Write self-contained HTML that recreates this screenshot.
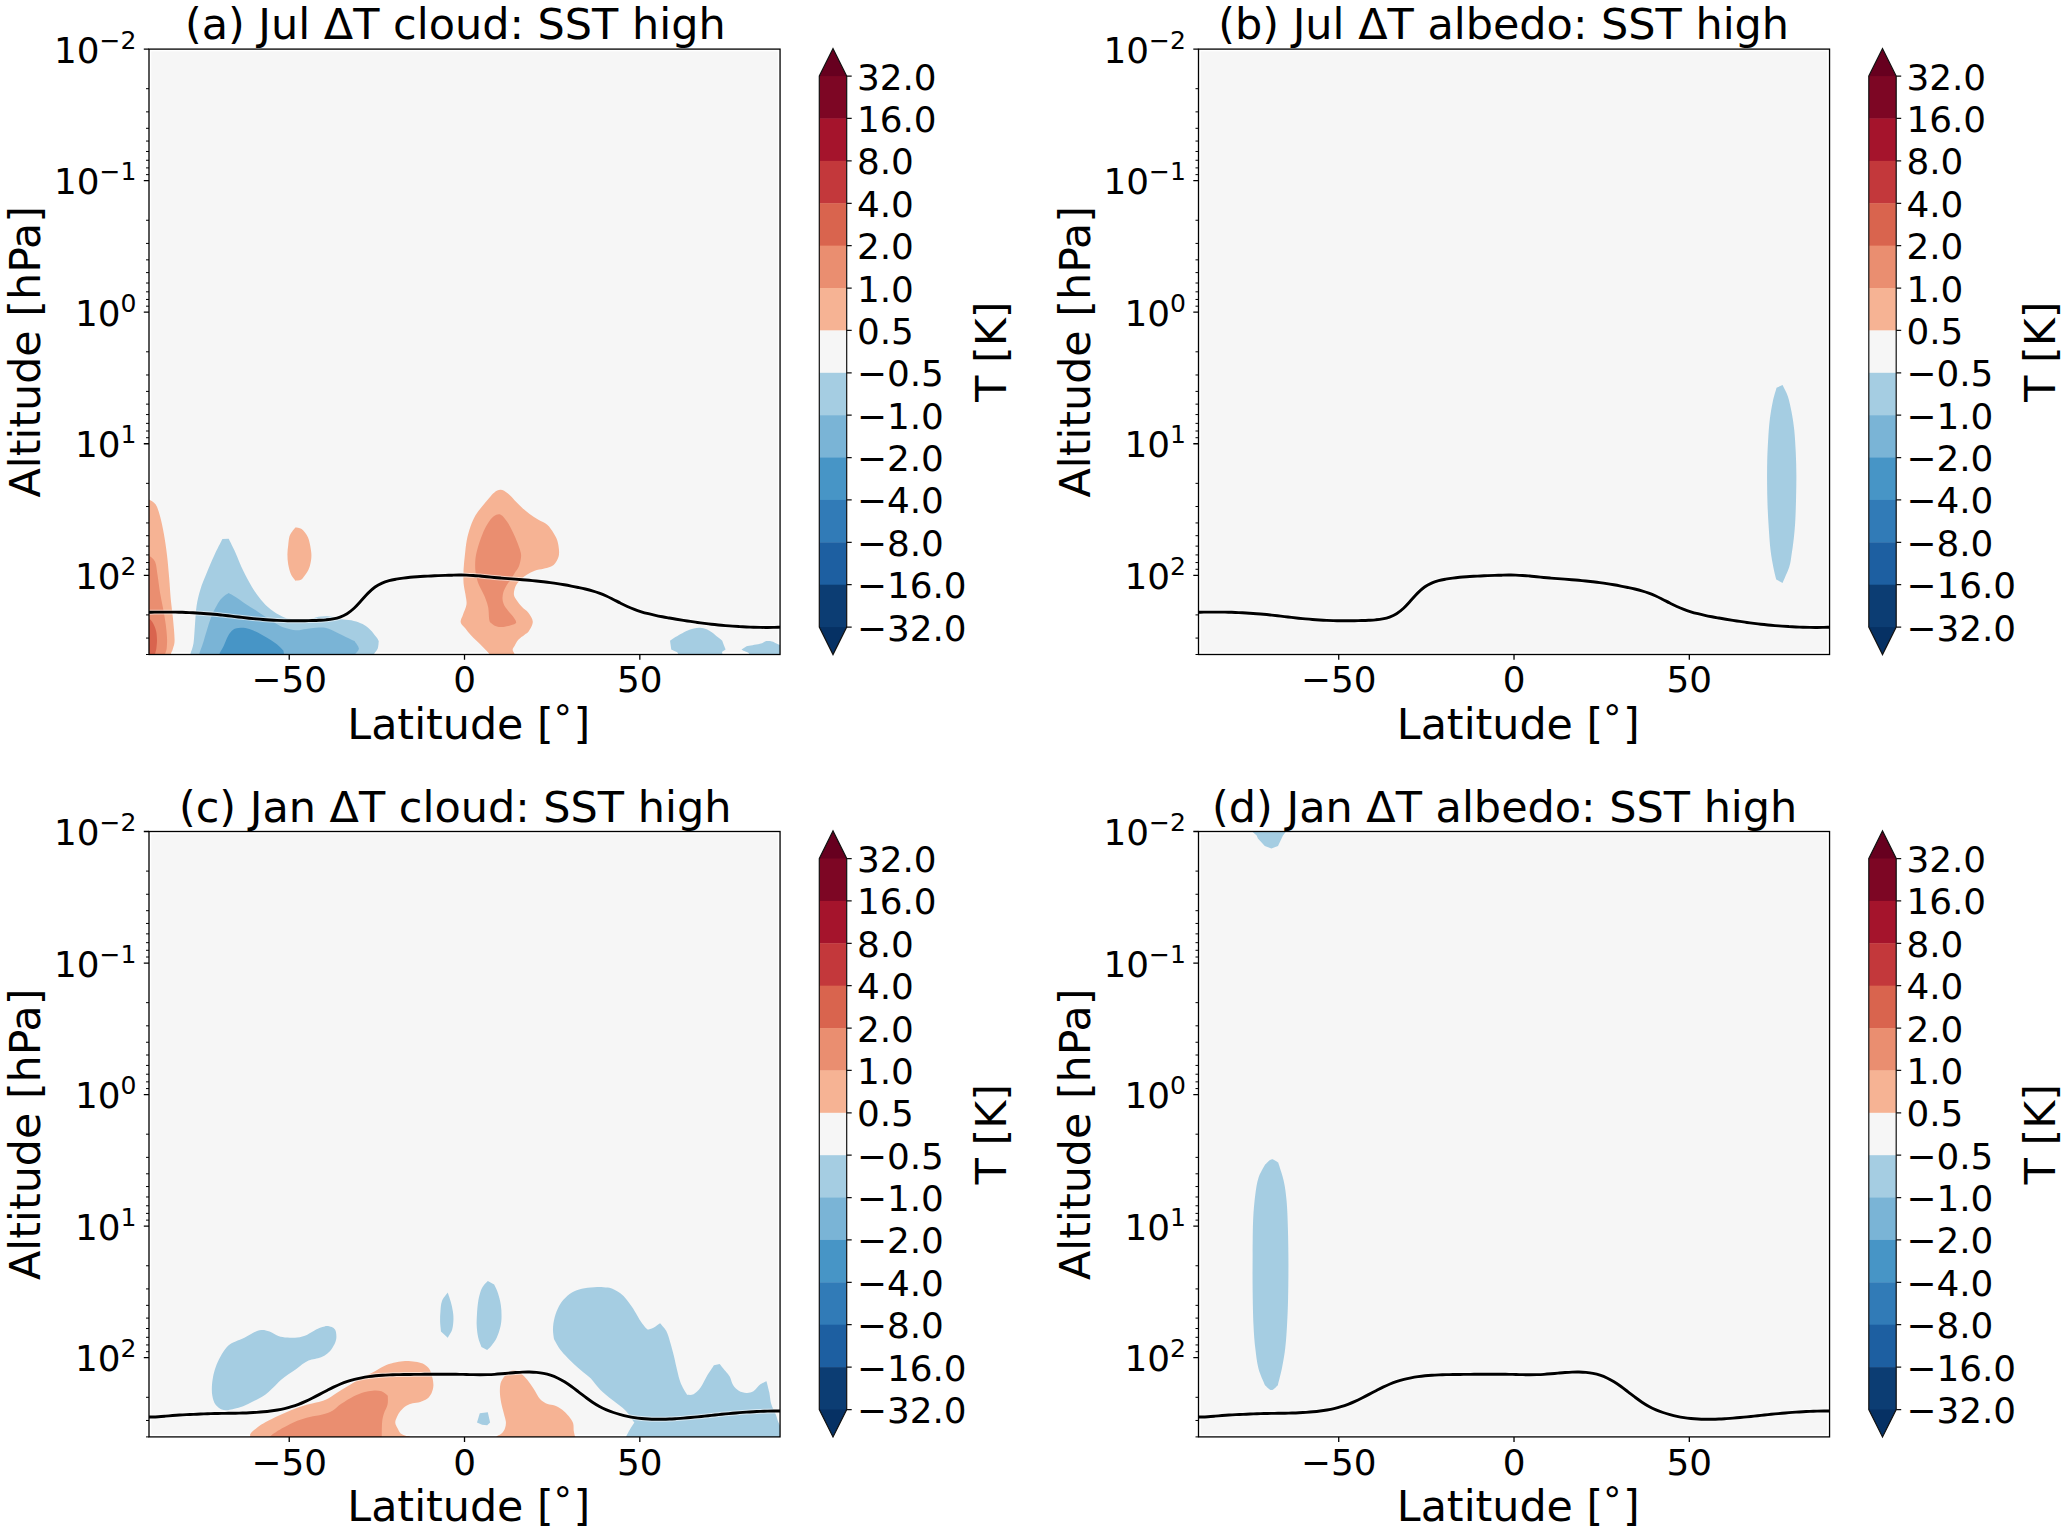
<!DOCTYPE html>
<html lang="en"><head><meta charset="utf-8"><title>SST high: temperature response</title>
<style>html,body{margin:0;padding:0;background:#fff}body{width:2067px;height:1532px;overflow:hidden}svg{display:block}text{font-family:'DejaVu Sans','Liberation Sans',sans-serif;fill:#000}</style>
</head><body>
<svg width="2067" height="1532" viewBox="0 0 2067 1532">
<defs><clipPath id="axclip"><rect x="2.4" y="2.4" width="628.65" height="603"/></clipPath><clipPath id="axclip2"><rect x="0" y="0" width="631.05" height="605.4"/></clipPath></defs>
<rect width="2067" height="1532" fill="#fff"/>
<g transform="translate(149,49.1)">
<rect x="0" y="0" width="631.05" height="605.4" fill="#fff"/>
<rect x="2.3" y="2.3" width="626.45" height="600.8" fill="#f6f6f6"/>
<g clip-path="url(#axclip2)">
<path d="M-6.48,445.99 L0.06,450.4 L0.06,450.4 C1.17,451.24 4.88,452.6 6.72,455.43 C8.57,458.26 9.76,462.45 11.13,467.38 C12.49,472.3 13.75,478.49 14.9,484.99 C16.05,491.49 17.16,499.03 18.04,506.37 C18.92,513.71 19.55,521.68 20.18,529.01 C20.81,536.35 21.19,543.69 21.82,550.4 C22.45,557.11 23.33,562.56 23.96,569.26 C24.58,575.97 25.59,585.62 25.59,590.65 C25.59,595.68 24.58,597.04 23.96,599.45 C23.33,601.86 22.32,603.23 21.82,605.11 C21.31,607 21.08,609.83 20.94,610.77 L-6.48,610.77 Z" fill="#f6b394"/>
<path d="M-6.48,501.34 L0.06,506.37 L0.06,506.37 C1.06,507.42 4.67,509.31 6.09,512.66 C7.52,516.02 7.77,521.26 8.61,526.5 C9.45,531.74 10.18,538.45 11.13,544.11 C12.07,549.77 13.33,555.22 14.27,560.46 C15.21,565.7 16.16,570.73 16.79,575.55 C17.42,580.38 17.9,585.41 18.04,589.39 C18.19,593.37 17.98,596.83 17.67,599.45 C17.35,602.07 16.49,603.23 16.16,605.11 C15.82,607 15.74,609.83 15.65,610.77 L-6.48,610.77 Z" fill="#ea8e70"/>
<path d="M-6.48,564.23 L0.06,569.26 L0.06,569.26 C0.75,570.1 3.03,572.2 4.21,574.3 C5.38,576.39 6.47,579.12 7.1,581.84 C7.73,584.57 7.94,587.71 7.98,590.65 C8.02,593.58 7.67,597.04 7.35,599.45 C7.04,601.86 6.39,603.23 6.09,605.11 C5.8,607 5.68,609.83 5.59,610.77 L-6.48,610.77 Z" fill="#d9644e"/>
<path d="M40.69,610.77 C40.79,609.83 40.69,607.84 41.31,605.11 C41.94,602.39 43.68,599.35 44.46,594.42 C45.23,589.5 45.44,581.84 45.97,575.55 C46.49,569.26 46.7,562.56 47.6,556.69 C48.51,550.82 49.7,545.78 51.38,540.33 C53.05,534.88 55.36,529.64 57.67,523.98 C59.97,518.32 62.59,512.03 65.21,506.37 C67.83,500.71 72.03,492.74 73.39,490.02 L73.39,490.02 L79.68,489.77 L79.68,489.77 C80.83,492.12 84.19,498.57 86.6,503.86 C89.01,509.14 91.42,515.81 94.14,521.47 C96.87,527.13 100.01,533 102.95,537.82 C105.88,542.64 108.61,546.62 111.75,550.4 C114.9,554.17 118.25,557.63 121.82,560.46 C125.38,563.29 129.78,565.81 133.14,567.38 C136.49,568.95 137.33,569.47 141.94,569.89 C146.56,570.31 156.2,570.25 160.81,569.89 C165.42,569.54 166.68,568.22 169.62,567.76 C172.55,567.29 175.49,566.98 178.42,567.13 C181.36,567.27 184.5,568.07 187.23,568.64 C189.95,569.2 191.84,570 194.77,570.52 C197.71,571.05 201.69,571.05 204.84,571.78 C207.98,572.51 210.92,573.46 213.64,574.93 C216.37,576.39 218.88,578.38 221.19,580.59 C223.49,582.79 226.05,586.25 227.48,588.13 C228.9,590.02 229.36,591.28 229.74,591.91 L229.74,591.91 C229.57,593.16 229.53,597.25 228.74,599.45 C227.94,601.65 225.8,603.23 224.96,605.11 C224.12,607 223.91,609.83 223.7,610.77 Z" fill="#a5cde2"/>
<path d="M49.11,610.77 C49.28,609.83 49.32,607.84 50.12,605.11 C50.92,602.39 52.64,598.3 53.89,594.42 C55.15,590.54 56.2,586.46 57.67,581.84 C59.13,577.23 60.81,571.36 62.7,566.75 C64.58,562.14 67.1,557.32 68.99,554.17 C70.87,551.03 72.24,549.6 74.02,547.88 C75.8,546.16 78.74,544.53 79.68,543.86 L79.68,543.86 C80.83,544.53 83.77,546.06 86.6,547.88 C89.43,549.71 93.31,552.6 96.66,554.8 C100.01,557 103.37,558.89 106.72,561.09 C110.08,563.29 113.43,565.81 116.79,568.01 C120.14,570.21 123.7,572.51 126.85,574.3 C129.99,576.08 132.3,577.55 135.65,578.7 C139.01,579.85 143.41,581 146.97,581.21 C150.54,581.42 153.68,580.38 157.04,579.96 C160.39,579.54 163.75,578.87 167.1,578.7 C170.45,578.53 173.81,578.22 177.16,578.95 C180.52,579.68 183.87,581.57 187.23,583.1 C190.58,584.63 194.25,586.67 197.29,588.13 C200.33,589.6 204.1,591.28 205.47,591.91 L205.47,591.91 C206.2,593.16 209.76,597.25 209.87,599.45 C209.97,601.65 206.93,603.23 206.09,605.11 C205.26,607 205.05,609.83 204.84,610.77 Z" fill="#7ab4d6"/>
<path d="M68.36,610.77 C68.67,609.83 69.2,607.42 70.25,605.11 C71.29,602.81 73.18,599.98 74.65,596.94 C76.12,593.9 77.48,589.6 79.05,586.87 C80.62,584.15 81.99,581.95 84.08,580.59 C86.18,579.22 88.9,578.8 91.63,578.7 C94.35,578.59 97.5,579.12 100.43,579.96 C103.37,580.8 106.3,582.26 109.24,583.73 C112.17,585.2 115.11,586.98 118.04,588.76 C120.98,590.54 124.12,592.33 126.85,594.42 C129.57,596.52 133.14,600.19 134.4,601.34 L134.4,601.34 C134.5,601.97 134.86,603.54 135.03,605.11 C135.19,606.69 135.34,609.83 135.4,610.77 Z" fill="#4795c6"/>
<path d="M146.35,478.45 C147.39,478.7 150.54,478.34 152.64,479.96 C154.73,481.57 157.39,484.78 158.92,488.13 C160.45,491.49 161.25,496.62 161.82,500.08 C162.38,503.54 162.59,505.74 162.32,508.89 C162.05,512.03 161.27,516.02 160.18,518.95 C159.09,521.89 157.14,524.55 155.78,526.5 C154.42,528.45 153.58,529.81 152.01,530.65 C150.43,531.49 147.29,531.38 146.35,531.53 L146.35,531.53 C145.61,530.48 143.14,527.96 141.94,525.24 C140.75,522.51 139.76,518.53 139.18,515.18 C138.59,511.82 138.42,508.26 138.42,505.11 C138.42,501.97 138.84,499.24 139.18,496.31 C139.51,493.37 139.76,489.81 140.43,487.5 C141.1,485.2 142.22,483.98 143.2,482.47 C144.19,480.96 145.82,479.12 146.35,478.45 Z" fill="#f6b394"/>
<path d="M351.69,440.77 C353.89,440.92 356.3,442.45 358.61,444.17 C360.92,445.89 363.12,448.68 365.53,451.09 C367.94,453.5 370.56,456.33 373.08,458.64 C375.59,460.94 377.9,462.93 380.62,464.93 C383.35,466.92 386.49,468.8 389.43,470.59 C392.36,472.37 395.72,473.42 398.23,475.62 C400.75,477.82 402.84,481.17 404.52,483.79 C406.2,486.41 407.39,488.61 408.3,491.34 C409.2,494.07 409.72,497.42 409.93,500.15 C410.14,502.87 410.25,505.28 409.55,507.69 C408.86,510.1 407.25,512.89 405.78,514.61 C404.31,516.33 402.64,517.17 400.75,518.01 C398.86,518.85 396.97,519.06 394.46,519.64 C391.94,520.23 388.38,520.59 385.65,521.53 C382.93,522.47 380.41,523.84 378.11,525.3 C375.8,526.77 373.7,528.45 371.82,530.33 C369.93,532.22 367.94,534.11 366.79,536.62 C365.63,539.14 364.69,542.91 364.9,545.43 C365.11,547.94 366.68,549.62 368.04,551.72 C369.41,553.81 371.19,556.02 373.08,558.01 C374.96,560 377.58,561.26 379.36,563.67 C381.15,566.08 383.66,569.43 383.77,572.47 C383.87,575.51 381.36,579.71 379.99,581.91 C378.63,584.11 377.37,584.21 375.59,585.68 C373.81,587.15 370.98,588.82 369.3,590.71 C367.62,592.6 366.47,595.32 365.53,597 C364.58,598.68 363.64,599.45 363.64,600.77 C363.64,602.09 364.9,603.46 365.53,604.93 C366.16,606.39 371.4,608.8 367.42,609.58 C363.43,610.35 346.14,610.35 341.63,609.58 C337.12,608.8 341.63,606.81 340.37,604.93 C339.11,603.04 336.18,600.42 334.08,598.26 C331.99,596.1 329.89,594.07 327.79,591.97 C325.7,589.87 323.39,587.78 321.5,585.68 C319.62,583.58 318.11,581.49 316.47,579.39 C314.84,577.29 312.11,575.41 311.69,573.1 C311.27,570.8 312.99,568.49 313.96,565.55 C314.92,562.62 317.06,558.85 317.48,555.49 C317.9,552.14 316.95,548.99 316.47,545.43 C315.99,541.86 314.9,538.3 314.58,534.11 C314.27,529.91 314.38,524.88 314.58,520.27 C314.79,515.66 315.32,511.26 315.84,506.43 C316.37,501.61 316.79,496.16 317.73,491.34 C318.67,486.52 320.04,481.7 321.5,477.5 C322.97,473.31 324.44,469.75 326.53,466.18 C328.63,462.62 331.78,459.06 334.08,456.12 C336.39,453.19 338.48,450.71 340.37,448.57 C342.26,446.43 343.52,444.59 345.4,443.29 C347.29,441.99 349.49,440.63 351.69,440.77Z" fill="#f6b394"/>
<path d="M351.69,465.55 C353.89,466.43 355.99,469.64 357.98,472.47 C359.97,475.3 361.96,479.18 363.64,482.54 C365.32,485.89 366.79,489.45 368.04,492.6 C369.3,495.74 370.52,498.89 371.19,501.4 C371.86,503.92 372.28,505.07 372.07,507.69 C371.86,510.31 371.02,514.4 369.93,517.13 C368.84,519.85 366.89,521.84 365.53,524.04 C364.17,526.25 363.12,528.24 361.75,530.33 C360.39,532.43 358.61,534.42 357.35,536.62 C356.09,538.82 354.84,541.24 354.21,543.54 C353.58,545.85 353.37,548.26 353.58,550.46 C353.79,552.66 354.52,554.86 355.47,556.75 C356.41,558.64 357.88,560.1 359.24,561.78 C360.6,563.46 362.32,564.88 363.64,566.81 C364.96,568.74 367.48,571.78 367.16,573.35 C366.85,574.93 363.91,575.49 361.75,576.25 C359.6,577 356.51,577.67 354.21,577.88 C351.9,578.09 349.81,578.05 347.92,577.5 C346.03,576.96 344.14,575.66 342.89,574.61 C341.63,573.56 341,573.98 340.37,571.21 C339.74,568.45 339.95,562.09 339.11,558.01 C338.27,553.92 336.81,550.25 335.34,546.69 C333.87,543.12 331.57,539.56 330.31,536.62 C329.05,533.69 328.46,531.8 327.79,529.08 C327.12,526.35 326.49,523.63 326.28,520.27 C326.07,516.92 326.07,512.72 326.53,508.95 C327,505.18 327.9,501.61 329.05,497.63 C330.2,493.65 331.88,488.82 333.45,485.05 C335.03,481.28 336.6,477.96 338.48,474.99 C340.37,472.01 342.57,468.76 344.77,467.19 C346.97,465.62 349.49,464.67 351.69,465.55Z" fill="#ea8e70"/>
<path d="M521.04,591.55 C522.39,590.71 526.41,588.11 529.13,586.5 C531.86,584.89 534.8,583.1 537.41,581.9 C540.01,580.71 542.46,579.86 544.76,579.33 C547.06,578.79 549.05,578.56 551.19,578.68 C553.34,578.81 555.64,579.3 557.63,580.06 C559.62,580.83 561.3,581.98 563.14,583.28 C564.98,584.58 566.97,586.5 568.66,587.88 C570.34,589.25 572.49,590.94 573.25,591.55 L573.25,591.55 C573.56,592.4 574.53,595.15 575.09,596.61 C575.66,598.06 576.39,599.67 576.65,600.29 L576.65,600.29 C576.09,600.67 574.43,601.51 573.25,602.58 C572.07,603.66 576.16,606.03 569.58,606.72 C562.99,607.41 540.62,607.33 533.73,606.72 C526.83,606.11 530.13,604.12 528.21,603.04 C526.3,601.97 523.23,600.74 522.24,600.29 L522.24,600.29 C522.13,599.52 521.79,597.14 521.59,595.69 C521.4,594.23 521.14,592.24 521.04,591.55 Z" fill="#a5cde2"/>
<path d="M592.56,600.47 L597.61,597.07 L597.61,597.07 C598.61,596.91 601.37,596.53 603.59,596.15 C605.81,595.77 608.64,595.46 610.94,594.77 C613.24,594.08 616.3,592.47 617.38,592.01 L617.38,592.01 C618.29,592.06 621.21,591.9 622.89,592.29 C624.58,592.67 625.5,593.44 627.49,594.31 C629.48,595.18 633.61,596.99 634.84,597.53 L634.84,607.64 C629.94,607.64 611.4,608.33 605.43,607.64 C599.45,606.95 600.83,604.5 598.99,603.5 C597.15,602.51 595.47,602.17 594.4,601.66 C593.32,601.16 592.86,600.67 592.56,600.47 Z" fill="#a5cde2"/>
</g>
<g clip-path="url(#axclip2)">
<defs><path id="ln-a" d="M-19.14,563.37 C-17.98,563.36 -14.47,563.32 -12.14,563.3 C-9.8,563.27 -7.47,563.25 -5.13,563.22 C-2.79,563.19 -0.46,563.15 1.88,563.12 C4.21,563.09 6.55,563.05 8.88,563.03 C11.22,563.01 13.55,562.99 15.89,562.99 C18.23,562.98 20.56,562.99 22.9,563.01 C25.23,563.02 27.57,563.05 29.9,563.1 C32.24,563.16 34.57,563.24 36.91,563.34 C39.25,563.44 41.58,563.57 43.92,563.69 C46.25,563.82 48.59,563.96 50.92,564.11 C53.26,564.26 55.6,564.42 57.93,564.59 C60.27,564.77 62.6,564.95 64.94,565.17 C67.27,565.38 69.61,565.62 71.94,565.87 C74.28,566.12 76.62,566.39 78.95,566.66 C81.29,566.93 83.62,567.2 85.96,567.48 C88.29,567.75 90.63,568.03 92.96,568.3 C95.3,568.57 97.64,568.84 99.97,569.09 C102.31,569.34 104.64,569.59 106.98,569.81 C109.31,570.04 111.65,570.26 113.98,570.44 C116.32,570.63 118.66,570.79 120.99,570.93 C123.33,571.07 125.66,571.2 128,571.3 C130.33,571.4 132.67,571.48 135.01,571.55 C137.34,571.61 139.68,571.65 142.01,571.68 C144.35,571.71 146.68,571.72 149.02,571.71 C151.35,571.7 153.69,571.68 156.03,571.64 C158.36,571.6 160.7,571.54 163.03,571.47 C165.37,571.39 167.7,571.31 170.04,571.19 C172.37,571.06 174.71,570.96 177.05,570.74 C179.38,570.51 181.72,570.29 184.05,569.83 C186.39,569.38 188.72,568.88 191.06,568.02 C193.39,567.16 195.73,566.13 198.07,564.66 C200.4,563.18 202.74,561.32 205.07,559.17 C207.41,557.02 209.74,554.28 212.08,551.76 C214.42,549.23 216.75,546.33 219.09,544.02 C221.42,541.72 223.76,539.6 226.09,537.92 C228.43,536.24 230.76,535.02 233.1,533.96 C235.44,532.9 237.77,532.22 240.11,531.57 C242.44,530.92 244.78,530.5 247.11,530.07 C249.45,529.65 251.78,529.31 254.12,529 C256.46,528.69 258.79,528.44 261.13,528.21 C263.46,527.98 265.8,527.8 268.13,527.63 C270.47,527.45 272.81,527.31 275.14,527.18 C277.48,527.05 279.81,526.94 282.15,526.84 C284.48,526.74 286.82,526.65 289.15,526.56 C291.49,526.47 293.83,526.38 296.16,526.31 C298.5,526.23 300.83,526.15 303.17,526.09 C305.5,526.03 307.84,525.96 310.17,525.95 C312.51,525.93 314.85,525.93 317.18,526 C319.52,526.06 321.85,526.17 324.19,526.33 C326.52,526.48 328.86,526.71 331.19,526.92 C333.53,527.14 335.87,527.4 338.2,527.64 C340.54,527.88 342.87,528.12 345.21,528.35 C347.54,528.57 349.88,528.78 352.22,528.98 C354.55,529.17 356.89,529.35 359.22,529.53 C361.56,529.71 363.89,529.87 366.23,530.05 C368.56,530.23 370.9,530.41 373.24,530.6 C375.57,530.79 377.91,530.98 380.24,531.19 C382.58,531.4 384.91,531.63 387.25,531.86 C389.58,532.1 391.92,532.35 394.26,532.62 C396.59,532.89 398.93,533.16 401.26,533.47 C403.6,533.78 405.93,534.1 408.27,534.46 C410.61,534.82 412.94,535.22 415.28,535.63 C417.61,536.05 419.95,536.5 422.28,536.96 C424.62,537.42 426.95,537.89 429.29,538.38 C431.63,538.88 433.96,539.37 436.3,539.93 C438.63,540.48 440.97,541.04 443.3,541.72 C445.64,542.39 447.97,543.12 450.31,543.98 C452.65,544.85 454.98,545.84 457.32,546.9 C459.65,547.96 461.99,549.17 464.32,550.34 C466.66,551.52 468.99,552.78 471.33,553.95 C473.67,555.12 476,556.3 478.34,557.36 C480.67,558.42 483.01,559.41 485.34,560.3 C487.68,561.18 490.02,561.95 492.35,562.68 C494.69,563.4 497.02,564.02 499.36,564.62 C501.69,565.22 504.03,565.75 506.36,566.26 C508.7,566.76 511.04,567.21 513.37,567.65 C515.71,568.1 518.04,568.51 520.38,568.93 C522.71,569.34 525.05,569.75 527.38,570.14 C529.72,570.53 532.06,570.9 534.39,571.27 C536.73,571.64 539.06,571.99 541.4,572.34 C543.73,572.68 546.07,573.03 548.41,573.35 C550.74,573.67 553.08,573.98 555.41,574.28 C557.75,574.57 560.08,574.85 562.42,575.11 C564.75,575.38 567.09,575.62 569.43,575.85 C571.76,576.08 574.1,576.3 576.43,576.5 C578.77,576.69 581.1,576.87 583.44,577.03 C585.77,577.19 588.11,577.34 590.45,577.48 C592.78,577.61 595.12,577.74 597.45,577.84 C599.79,577.95 602.12,578.04 604.46,578.12 C606.79,578.19 609.13,578.26 611.47,578.29 C613.8,578.33 616.14,578.34 618.47,578.33 C620.81,578.32 623.14,578.27 625.48,578.23 C627.82,578.18 630.15,578.11 632.49,578.06 C634.82,578 637.16,577.94 639.49,577.88 C641.83,577.82 645.33,577.73 646.5,577.7"/></defs>
<use href="#ln-a" fill="none" stroke="#fff" stroke-opacity="0.55" stroke-width="4.9"/>
<use href="#ln-a" fill="none" stroke="#000" stroke-width="2.9"/>
</g>
<path d="M0,0 h-5.2 M0,131.55 h-5.2 M0,263.1 h-5.2 M0,394.65 h-5.2 M0,526.2 h-5.2 M140.23,605.4 v5.2 M315.52,605.4 v5.2 M490.82,605.4 v5.2" stroke="#000" stroke-width="1.3" fill="none"/>
<path d="M0,39.6 h-3 M0,62.77 h-3 M0,79.2 h-3 M0,91.95 h-3 M0,102.37 h-3 M0,111.17 h-3 M0,118.8 h-3 M0,125.53 h-3 M0,171.15 h-3 M0,194.32 h-3 M0,210.75 h-3 M0,223.5 h-3 M0,233.92 h-3 M0,242.72 h-3 M0,250.35 h-3 M0,257.08 h-3 M0,302.7 h-3 M0,325.87 h-3 M0,342.3 h-3 M0,355.05 h-3 M0,365.47 h-3 M0,374.27 h-3 M0,381.9 h-3 M0,388.63 h-3 M0,434.25 h-3 M0,457.42 h-3 M0,473.85 h-3 M0,486.6 h-3 M0,497.02 h-3 M0,505.82 h-3 M0,513.45 h-3 M0,520.18 h-3 M0,565.8 h-3 M0,588.97 h-3 M0,605.4 h-3" stroke="#000" stroke-width="1.0" fill="none"/>
<rect x="0" y="0" width="631.05" height="605.4" fill="none" stroke="#000" stroke-width="1.3"/>
<text x="-95.1" y="13.6" font-size="35.8">10</text>
<text x="-49.4" y="-0.4" font-size="25.06">−2</text>
<text x="-95.1" y="145.15" font-size="35.8">10</text>
<text x="-49.4" y="131.15" font-size="25.06">−1</text>
<text x="-74.1" y="276.7" font-size="35.8">10</text>
<text x="-28.4" y="262.7" font-size="25.06">0</text>
<text x="-74.1" y="408.25" font-size="35.8">10</text>
<text x="-28.4" y="394.25" font-size="25.06">1</text>
<text x="-74.1" y="539.8" font-size="35.8">10</text>
<text x="-28.4" y="525.8" font-size="25.06">2</text>
<text x="140.23" y="642.85" font-size="35.8" text-anchor="middle">−50</text>
<text x="315.52" y="642.85" font-size="35.8" text-anchor="middle">0</text>
<text x="490.82" y="642.85" font-size="35.8" text-anchor="middle">50</text>
<text x="198.3" y="690" font-size="42.8">Latitude [</text>
<text x="402.6" y="672.2" font-size="36">∘</text>
<text x="424.4" y="690" font-size="42.8">]</text>
<text transform="translate(-109,302.7) rotate(-90)" font-size="42.8" text-anchor="middle">Altitude [hPa]</text>
<text x="306.27" y="-10" font-size="42.96" text-anchor="middle">(a) Jul ΔT cloud: SST high</text>
<path d="M670.3,28 L670.3,27 L684,-0.6 L697.7,27 L697.7,28 Z" fill="#67001f"/>
<path d="M670.3,577 L670.3,578 L684,605.5 L697.7,578 L697.7,577 Z" fill="#063164"/>
<rect x="670.3" y="27" width="27.4" height="42.78" fill="#7d0624"/>
<rect x="670.3" y="69.38" width="27.4" height="42.78" fill="#a5142c"/>
<rect x="670.3" y="111.77" width="27.4" height="42.78" fill="#c3383b"/>
<rect x="670.3" y="154.16" width="27.4" height="42.78" fill="#d9644e"/>
<rect x="670.3" y="196.54" width="27.4" height="42.78" fill="#ea8e70"/>
<rect x="670.3" y="238.92" width="27.4" height="42.78" fill="#f6b394"/>
<rect x="670.3" y="281.31" width="27.4" height="42.78" fill="#f6f6f6"/>
<rect x="670.3" y="323.69" width="27.4" height="42.78" fill="#a5cde2"/>
<rect x="670.3" y="366.08" width="27.4" height="42.78" fill="#7ab4d6"/>
<rect x="670.3" y="408.46" width="27.4" height="42.78" fill="#4795c6"/>
<rect x="670.3" y="450.85" width="27.4" height="42.78" fill="#317bb7"/>
<rect x="670.3" y="493.23" width="27.4" height="42.78" fill="#1d5fa1"/>
<rect x="670.3" y="535.62" width="27.4" height="42.38" fill="#0c3d73"/>
<path d="M670.3,27 L684,-0.6 L697.7,27 L697.7,578 L684,605.5 L670.3,578 Z" fill="none" stroke="#111" stroke-width="1.2" stroke-linejoin="miter"/>
<text x="707.9" y="40.5" font-size="35.8">32.0</text>
<text x="707.9" y="82.88" font-size="35.8">16.0</text>
<text x="707.9" y="125.27" font-size="35.8">8.0</text>
<text x="707.9" y="167.66" font-size="35.8">4.0</text>
<text x="707.9" y="210.04" font-size="35.8">2.0</text>
<text x="707.9" y="252.42" font-size="35.8">1.0</text>
<text x="707.9" y="294.81" font-size="35.8">0.5</text>
<text x="707.9" y="337.19" font-size="35.8">−0.5</text>
<text x="707.9" y="379.58" font-size="35.8">−1.0</text>
<text x="707.9" y="421.96" font-size="35.8">−2.0</text>
<text x="707.9" y="464.35" font-size="35.8">−4.0</text>
<text x="707.9" y="506.73" font-size="35.8">−8.0</text>
<text x="707.9" y="549.12" font-size="35.8">−16.0</text>
<text x="707.9" y="591.5" font-size="35.8">−32.0</text>
<path d="M697.7,27 h5 M697.7,69.38 h5 M697.7,111.77 h5 M697.7,154.16 h5 M697.7,196.54 h5 M697.7,238.92 h5 M697.7,281.31 h5 M697.7,323.69 h5 M697.7,366.08 h5 M697.7,408.46 h5 M697.7,450.85 h5 M697.7,493.23 h5 M697.7,535.62 h5 M697.7,578 h5" stroke="#111" stroke-width="1.25" fill="none"/>
<text transform="translate(856.9,302.6) rotate(-90)" font-size="42.8" text-anchor="middle" word-spacing="-1">T [K]</text>
</g>
<g transform="translate(1198.5,49.1)">
<rect x="0" y="0" width="631.05" height="605.4" fill="#fff"/>
<rect x="2.3" y="2.3" width="626.45" height="600.8" fill="#f6f6f6"/>
<g clip-path="url(#axclip2)">
<path d="M578.05,338.62 L584.05,335.92 L584.05,335.92 C584.93,337.79 587.81,342.67 589.31,347.18 C590.81,351.68 591.99,357.31 593.06,362.94 C594.14,368.57 595.06,374.2 595.76,380.96 C596.46,387.72 596.92,395.98 597.27,403.48 C597.62,410.99 597.82,418.5 597.87,426.01 C597.92,433.51 597.74,441.02 597.57,448.53 C597.39,456.04 597.19,464.29 596.82,471.05 C596.44,477.81 595.94,483.31 595.31,489.07 C594.69,494.82 593.81,500.83 593.06,505.58 C592.31,510.34 592.31,512.89 590.81,517.6 C589.31,522.3 585.18,531.11 584.05,533.81 L584.05,533.81 L577.75,530.36 L577.75,530.36 C577.3,528.48 575.99,523.98 575.04,519.1 C574.09,514.22 572.84,507.84 572.04,501.08 C571.24,494.32 570.74,486.07 570.24,478.56 C569.74,471.05 569.31,463.54 569.04,456.04 C568.76,448.53 568.64,441.02 568.59,433.51 C568.54,426.01 568.54,418.5 568.74,410.99 C568.94,403.48 569.36,395.22 569.79,388.47 C570.21,381.71 570.54,376.46 571.29,370.45 C572.04,364.44 573.17,357.74 574.29,352.43 C575.42,347.13 577.42,340.92 578.05,338.62 Z" fill="#a5cde2"/>
</g>
<g clip-path="url(#axclip2)">
<defs><path id="ln-b" d="M-19.14,563.37 C-17.98,563.36 -14.47,563.32 -12.14,563.3 C-9.8,563.27 -7.47,563.25 -5.13,563.22 C-2.79,563.19 -0.46,563.15 1.88,563.12 C4.21,563.09 6.55,563.05 8.88,563.03 C11.22,563.01 13.55,562.99 15.89,562.99 C18.23,562.98 20.56,562.99 22.9,563.01 C25.23,563.02 27.57,563.05 29.9,563.1 C32.24,563.16 34.57,563.24 36.91,563.34 C39.25,563.44 41.58,563.57 43.92,563.69 C46.25,563.82 48.59,563.96 50.92,564.11 C53.26,564.26 55.6,564.42 57.93,564.59 C60.27,564.77 62.6,564.95 64.94,565.17 C67.27,565.38 69.61,565.62 71.94,565.87 C74.28,566.12 76.62,566.39 78.95,566.66 C81.29,566.93 83.62,567.2 85.96,567.48 C88.29,567.75 90.63,568.03 92.96,568.3 C95.3,568.57 97.64,568.84 99.97,569.09 C102.31,569.34 104.64,569.59 106.98,569.81 C109.31,570.04 111.65,570.26 113.98,570.44 C116.32,570.63 118.66,570.79 120.99,570.93 C123.33,571.07 125.66,571.2 128,571.3 C130.33,571.4 132.67,571.48 135.01,571.55 C137.34,571.61 139.68,571.65 142.01,571.68 C144.35,571.71 146.68,571.72 149.02,571.71 C151.35,571.7 153.69,571.68 156.03,571.64 C158.36,571.6 160.7,571.54 163.03,571.47 C165.37,571.39 167.7,571.31 170.04,571.19 C172.37,571.06 174.71,570.96 177.05,570.74 C179.38,570.51 181.72,570.29 184.05,569.83 C186.39,569.38 188.72,568.88 191.06,568.02 C193.39,567.16 195.73,566.13 198.07,564.66 C200.4,563.18 202.74,561.32 205.07,559.17 C207.41,557.02 209.74,554.28 212.08,551.76 C214.42,549.23 216.75,546.33 219.09,544.02 C221.42,541.72 223.76,539.6 226.09,537.92 C228.43,536.24 230.76,535.02 233.1,533.96 C235.44,532.9 237.77,532.22 240.11,531.57 C242.44,530.92 244.78,530.5 247.11,530.07 C249.45,529.65 251.78,529.31 254.12,529 C256.46,528.69 258.79,528.44 261.13,528.21 C263.46,527.98 265.8,527.8 268.13,527.63 C270.47,527.45 272.81,527.31 275.14,527.18 C277.48,527.05 279.81,526.94 282.15,526.84 C284.48,526.74 286.82,526.65 289.15,526.56 C291.49,526.47 293.83,526.38 296.16,526.31 C298.5,526.23 300.83,526.15 303.17,526.09 C305.5,526.03 307.84,525.96 310.17,525.95 C312.51,525.93 314.85,525.93 317.18,526 C319.52,526.06 321.85,526.17 324.19,526.33 C326.52,526.48 328.86,526.71 331.19,526.92 C333.53,527.14 335.87,527.4 338.2,527.64 C340.54,527.88 342.87,528.12 345.21,528.35 C347.54,528.57 349.88,528.78 352.22,528.98 C354.55,529.17 356.89,529.35 359.22,529.53 C361.56,529.71 363.89,529.87 366.23,530.05 C368.56,530.23 370.9,530.41 373.24,530.6 C375.57,530.79 377.91,530.98 380.24,531.19 C382.58,531.4 384.91,531.63 387.25,531.86 C389.58,532.1 391.92,532.35 394.26,532.62 C396.59,532.89 398.93,533.16 401.26,533.47 C403.6,533.78 405.93,534.1 408.27,534.46 C410.61,534.82 412.94,535.22 415.28,535.63 C417.61,536.05 419.95,536.5 422.28,536.96 C424.62,537.42 426.95,537.89 429.29,538.38 C431.63,538.88 433.96,539.37 436.3,539.93 C438.63,540.48 440.97,541.04 443.3,541.72 C445.64,542.39 447.97,543.12 450.31,543.98 C452.65,544.85 454.98,545.84 457.32,546.9 C459.65,547.96 461.99,549.17 464.32,550.34 C466.66,551.52 468.99,552.78 471.33,553.95 C473.67,555.12 476,556.3 478.34,557.36 C480.67,558.42 483.01,559.41 485.34,560.3 C487.68,561.18 490.02,561.95 492.35,562.68 C494.69,563.4 497.02,564.02 499.36,564.62 C501.69,565.22 504.03,565.75 506.36,566.26 C508.7,566.76 511.04,567.21 513.37,567.65 C515.71,568.1 518.04,568.51 520.38,568.93 C522.71,569.34 525.05,569.75 527.38,570.14 C529.72,570.53 532.06,570.9 534.39,571.27 C536.73,571.64 539.06,571.99 541.4,572.34 C543.73,572.68 546.07,573.03 548.41,573.35 C550.74,573.67 553.08,573.98 555.41,574.28 C557.75,574.57 560.08,574.85 562.42,575.11 C564.75,575.38 567.09,575.62 569.43,575.85 C571.76,576.08 574.1,576.3 576.43,576.5 C578.77,576.69 581.1,576.87 583.44,577.03 C585.77,577.19 588.11,577.34 590.45,577.48 C592.78,577.61 595.12,577.74 597.45,577.84 C599.79,577.95 602.12,578.04 604.46,578.12 C606.79,578.19 609.13,578.26 611.47,578.29 C613.8,578.33 616.14,578.34 618.47,578.33 C620.81,578.32 623.14,578.27 625.48,578.23 C627.82,578.18 630.15,578.11 632.49,578.06 C634.82,578 637.16,577.94 639.49,577.88 C641.83,577.82 645.33,577.73 646.5,577.7"/></defs>
<use href="#ln-b" fill="none" stroke="#fff" stroke-opacity="0.55" stroke-width="4.9"/>
<use href="#ln-b" fill="none" stroke="#000" stroke-width="2.9"/>
</g>
<path d="M0,0 h-5.2 M0,131.55 h-5.2 M0,263.1 h-5.2 M0,394.65 h-5.2 M0,526.2 h-5.2 M140.23,605.4 v5.2 M315.52,605.4 v5.2 M490.82,605.4 v5.2" stroke="#000" stroke-width="1.3" fill="none"/>
<path d="M0,39.6 h-3 M0,62.77 h-3 M0,79.2 h-3 M0,91.95 h-3 M0,102.37 h-3 M0,111.17 h-3 M0,118.8 h-3 M0,125.53 h-3 M0,171.15 h-3 M0,194.32 h-3 M0,210.75 h-3 M0,223.5 h-3 M0,233.92 h-3 M0,242.72 h-3 M0,250.35 h-3 M0,257.08 h-3 M0,302.7 h-3 M0,325.87 h-3 M0,342.3 h-3 M0,355.05 h-3 M0,365.47 h-3 M0,374.27 h-3 M0,381.9 h-3 M0,388.63 h-3 M0,434.25 h-3 M0,457.42 h-3 M0,473.85 h-3 M0,486.6 h-3 M0,497.02 h-3 M0,505.82 h-3 M0,513.45 h-3 M0,520.18 h-3 M0,565.8 h-3 M0,588.97 h-3 M0,605.4 h-3" stroke="#000" stroke-width="1.0" fill="none"/>
<rect x="0" y="0" width="631.05" height="605.4" fill="none" stroke="#000" stroke-width="1.3"/>
<text x="-95.1" y="13.6" font-size="35.8">10</text>
<text x="-49.4" y="-0.4" font-size="25.06">−2</text>
<text x="-95.1" y="145.15" font-size="35.8">10</text>
<text x="-49.4" y="131.15" font-size="25.06">−1</text>
<text x="-74.1" y="276.7" font-size="35.8">10</text>
<text x="-28.4" y="262.7" font-size="25.06">0</text>
<text x="-74.1" y="408.25" font-size="35.8">10</text>
<text x="-28.4" y="394.25" font-size="25.06">1</text>
<text x="-74.1" y="539.8" font-size="35.8">10</text>
<text x="-28.4" y="525.8" font-size="25.06">2</text>
<text x="140.23" y="642.85" font-size="35.8" text-anchor="middle">−50</text>
<text x="315.52" y="642.85" font-size="35.8" text-anchor="middle">0</text>
<text x="490.82" y="642.85" font-size="35.8" text-anchor="middle">50</text>
<text x="198.3" y="690" font-size="42.8">Latitude [</text>
<text x="402.6" y="672.2" font-size="36">∘</text>
<text x="424.4" y="690" font-size="42.8">]</text>
<text transform="translate(-109,302.7) rotate(-90)" font-size="42.8" text-anchor="middle">Altitude [hPa]</text>
<text x="305.17" y="-10.1" font-size="42.96" text-anchor="middle">(b) Jul ΔT albedo: SST high</text>
<path d="M670.3,28 L670.3,27 L684,-0.6 L697.7,27 L697.7,28 Z" fill="#67001f"/>
<path d="M670.3,577 L670.3,578 L684,605.5 L697.7,578 L697.7,577 Z" fill="#063164"/>
<rect x="670.3" y="27" width="27.4" height="42.78" fill="#7d0624"/>
<rect x="670.3" y="69.38" width="27.4" height="42.78" fill="#a5142c"/>
<rect x="670.3" y="111.77" width="27.4" height="42.78" fill="#c3383b"/>
<rect x="670.3" y="154.16" width="27.4" height="42.78" fill="#d9644e"/>
<rect x="670.3" y="196.54" width="27.4" height="42.78" fill="#ea8e70"/>
<rect x="670.3" y="238.92" width="27.4" height="42.78" fill="#f6b394"/>
<rect x="670.3" y="281.31" width="27.4" height="42.78" fill="#f6f6f6"/>
<rect x="670.3" y="323.69" width="27.4" height="42.78" fill="#a5cde2"/>
<rect x="670.3" y="366.08" width="27.4" height="42.78" fill="#7ab4d6"/>
<rect x="670.3" y="408.46" width="27.4" height="42.78" fill="#4795c6"/>
<rect x="670.3" y="450.85" width="27.4" height="42.78" fill="#317bb7"/>
<rect x="670.3" y="493.23" width="27.4" height="42.78" fill="#1d5fa1"/>
<rect x="670.3" y="535.62" width="27.4" height="42.38" fill="#0c3d73"/>
<path d="M670.3,27 L684,-0.6 L697.7,27 L697.7,578 L684,605.5 L670.3,578 Z" fill="none" stroke="#111" stroke-width="1.2" stroke-linejoin="miter"/>
<text x="707.9" y="40.5" font-size="35.8">32.0</text>
<text x="707.9" y="82.88" font-size="35.8">16.0</text>
<text x="707.9" y="125.27" font-size="35.8">8.0</text>
<text x="707.9" y="167.66" font-size="35.8">4.0</text>
<text x="707.9" y="210.04" font-size="35.8">2.0</text>
<text x="707.9" y="252.42" font-size="35.8">1.0</text>
<text x="707.9" y="294.81" font-size="35.8">0.5</text>
<text x="707.9" y="337.19" font-size="35.8">−0.5</text>
<text x="707.9" y="379.58" font-size="35.8">−1.0</text>
<text x="707.9" y="421.96" font-size="35.8">−2.0</text>
<text x="707.9" y="464.35" font-size="35.8">−4.0</text>
<text x="707.9" y="506.73" font-size="35.8">−8.0</text>
<text x="707.9" y="549.12" font-size="35.8">−16.0</text>
<text x="707.9" y="591.5" font-size="35.8">−32.0</text>
<path d="M697.7,27 h5 M697.7,69.38 h5 M697.7,111.77 h5 M697.7,154.16 h5 M697.7,196.54 h5 M697.7,238.92 h5 M697.7,281.31 h5 M697.7,323.69 h5 M697.7,366.08 h5 M697.7,408.46 h5 M697.7,450.85 h5 M697.7,493.23 h5 M697.7,535.62 h5 M697.7,578 h5" stroke="#111" stroke-width="1.25" fill="none"/>
<text transform="translate(856.9,302.6) rotate(-90)" font-size="42.8" text-anchor="middle" word-spacing="-1">T [K]</text>
</g>
<g transform="translate(149,831.5)">
<rect x="0" y="0" width="631.05" height="605.4" fill="#fff"/>
<rect x="2.3" y="2.3" width="626.45" height="600.8" fill="#f6f6f6"/>
<g clip-path="url(#axclip2)">
<path d="M112.38,498.5 C115.11,498.29 117.73,499.02 120.56,500.01 C123.39,500.99 126.43,503.41 129.36,504.41 C132.3,505.42 135.03,505.77 138.17,506.05 C141.31,506.32 144.88,506.53 148.23,506.05 C151.59,505.56 155.15,504.47 158.3,503.15 C161.44,501.83 164.58,499.38 167.1,498.12 C169.62,496.86 171.4,496.19 173.39,495.61 C175.38,495.02 176.95,494.18 179.05,494.6 C181.15,495.02 184.61,495.96 185.97,498.12 C187.33,500.28 187.65,504.52 187.23,507.56 C186.81,510.6 184.92,513.95 183.45,516.36 C181.99,518.77 180.31,520.45 178.42,522.02 C176.53,523.59 174.23,524.89 172.13,525.8 C170.04,526.7 167.94,526.91 165.84,527.43 C163.75,527.95 161.65,528.06 159.55,528.94 C157.46,529.82 155.36,531.25 153.26,532.71 C151.17,534.18 149.28,536.07 146.97,537.75 C144.67,539.42 141.94,540.99 139.43,542.78 C136.91,544.56 134.4,546.24 131.88,548.44 C129.36,550.64 126.64,553.78 124.33,555.98 C122.03,558.19 120.14,559.97 118.04,561.64 C115.95,563.32 114.27,564.58 111.75,566.05 C109.24,567.51 105.88,568.98 102.95,570.45 C100.01,571.92 97.08,573.7 94.14,574.85 C91.21,576.01 87.86,576.74 85.34,577.37 C82.82,578 81.15,578.52 79.05,578.63 C76.95,578.73 74.86,578.94 72.76,578 C70.66,577.05 68.04,575.27 66.47,572.97 C64.9,570.66 63.91,567.31 63.33,564.16 C62.74,561.02 62.74,557.66 62.95,554.1 C63.16,550.53 63.79,546.34 64.58,542.78 C65.38,539.21 66.37,536.07 67.73,532.71 C69.09,529.36 70.77,525.8 72.76,522.65 C74.75,519.51 77.37,515.94 79.68,513.85 C81.99,511.75 83.98,511.33 86.6,510.07 C89.22,508.81 92.47,507.77 95.4,506.3 C98.34,504.83 101.38,502.57 104.21,501.27 C107.04,499.97 109.66,498.71 112.38,498.5Z" fill="#a5cde2"/>
<path d="M99.18,611.96 C99.49,610.81 100.64,606.72 101.06,605.04 C101.48,603.36 100.54,603.36 101.69,601.9 C102.84,600.43 105.47,598.12 107.98,596.24 C110.5,594.35 113.22,592.57 116.79,590.58 C120.35,588.58 125.17,586.28 129.36,584.29 C133.56,582.29 137.75,580.3 141.94,578.63 C146.14,576.95 150.33,575.48 154.52,574.22 C158.71,572.97 163.33,572.13 167.1,571.08 C170.87,570.03 173.81,569.51 177.16,567.93 C180.52,566.36 183.66,563.85 187.23,561.64 C190.79,559.44 194.56,557.14 198.55,554.73 C202.53,552.32 206.93,549.49 211.13,547.18 C215.32,544.87 219.51,543.09 223.7,540.89 C227.9,538.69 232.35,535.65 236.28,533.97 C240.21,532.29 243.99,531.56 247.29,530.83 C250.59,530.09 252.95,529.67 256.09,529.57 C259.24,529.46 263.22,529.78 266.16,530.2 C269.09,530.62 271.4,530.93 273.7,532.08 C276.01,533.24 278.42,534.92 279.99,537.12 C281.57,539.32 282.4,542.46 283.14,545.29 C283.87,548.12 284.5,551.37 284.4,554.1 C284.29,556.82 283.56,559.44 282.51,561.64 C281.46,563.85 279.99,565.84 278.11,567.31 C276.22,568.77 273.6,569.72 271.19,570.45 C268.78,571.18 265.95,571.08 263.64,571.71 C261.34,572.34 259.34,572.97 257.35,574.22 C255.36,575.48 253.26,577.37 251.69,579.25 C250.12,581.14 248.82,583.55 247.92,585.54 C247.02,587.54 246.18,589.32 246.28,591.2 C246.39,593.09 247.65,595.08 248.55,596.86 C249.45,598.65 250.22,600.64 251.69,601.9 C253.16,603.15 255.78,603.82 257.35,604.41 C258.92,605 260.29,603.95 261.13,605.42 C261.96,606.89 262.17,611.92 262.38,613.22 Z" fill="#f6b394"/>
<path d="M119.3,611.96 C119.62,610.81 119.93,606.93 121.19,605.04 C122.45,603.15 124.44,602.21 126.85,600.64 C129.26,599.07 132.09,597.49 135.65,595.61 C139.22,593.72 144.04,590.99 148.23,589.32 C152.43,587.64 156.62,586.59 160.81,585.54 C165,584.5 169.62,584.08 173.39,583.03 C177.16,581.98 180.31,581.04 183.45,579.25 C186.6,577.47 188.69,574.75 192.26,572.34 C195.82,569.93 201.06,566.74 204.84,564.79 C208.61,562.84 211.75,561.58 214.9,560.64 C218.04,559.69 220.77,559.28 223.7,559.13 C226.64,558.98 229.99,558.92 232.51,559.76 C235.03,560.6 237.75,563.43 238.8,564.16 L238.8,564.16 C238.76,565.63 239.18,570.03 238.55,572.97 C237.92,575.9 235.93,578.84 235.03,581.77 C234.12,584.71 233.52,586.7 233.14,590.58 C232.76,594.45 232.82,601.48 232.76,605.04 C232.7,608.6 232.76,610.81 232.76,611.96 Z" fill="#ea8e70"/>
<path d="M345.17,609.39 C331.92,608.65 346.44,606.21 347.72,604.93 C348.99,603.66 351.43,603.13 352.81,601.75 C354.19,600.37 355.31,598.57 355.99,596.66 C356.67,594.75 357.09,592.84 356.88,590.3 C356.67,587.75 355.5,584.57 354.72,581.39 C353.93,578.21 352.81,574.6 352.17,571.21 C351.53,567.82 351,564.21 350.9,561.03 C350.79,557.85 350.9,554.67 351.53,552.12 C352.17,549.58 353.44,547.56 354.72,545.76 C355.99,543.96 357.47,542.47 359.17,541.3 C360.87,540.14 362.78,538.65 364.9,538.76 C367.02,538.87 369.67,540.35 371.9,541.94 C374.12,543.53 376.14,545.76 378.26,548.3 C380.38,550.85 382.5,554.03 384.62,557.21 C386.74,560.39 388.65,564.85 390.98,567.39 C393.32,569.94 396.18,571.38 398.62,572.48 C401.06,573.59 403.18,573.06 405.62,574.01 C408.06,574.96 410.92,576.45 413.26,578.21 C415.59,579.97 417.82,582.35 419.62,584.57 C421.42,586.8 423.22,589.13 424.07,591.57 C424.92,594.01 424.39,596.98 424.71,599.21 C425.03,601.43 425.56,603.24 425.98,604.93 C426.41,606.63 440.72,608.65 427.25,609.39 C413.79,610.13 358.43,610.13 345.17,609.39Z" fill="#f6b394"/>
<path d="M330.79,581.77 L338.81,580.76 L341.1,590.94 L338.17,593.86 L333.08,593.23 L327.99,590.94Z" fill="#a5cde2"/>
<path d="M298.72,460.88 C299.25,462.51 301.06,467.56 301.9,470.68 C302.75,473.79 303.39,476.72 303.81,479.58 C304.24,482.45 304.55,484.78 304.45,487.86 C304.34,490.93 304.13,494.96 303.18,498.04 C302.22,501.11 299.46,504.93 298.72,506.31 L298.72,506.31 L291.98,499.95 L291.98,499.95 C291.83,498.25 291.17,493.16 291.09,489.76 C291,486.37 291.15,482.98 291.47,479.58 C291.79,476.19 291.79,472.52 293,469.4 C294.2,466.29 297.77,462.3 298.72,460.88 Z" fill="#a5cde2"/>
<path d="M338.81,449.42 L345.17,453.11 L345.17,453.11 C345.81,454.56 347.89,458.42 348.99,461.77 C350.09,465.12 351.2,469.4 351.79,473.22 C352.38,477.04 352.59,481.07 352.55,484.67 C352.51,488.28 352.34,491.25 351.53,494.86 C350.73,498.46 349.2,503.13 347.72,506.31 C346.23,509.49 344.22,511.93 342.63,513.94 C341.04,515.96 338.91,517.66 338.17,518.4 L338.17,518.4 L332.45,515.47 L332.45,515.47 C331.92,513.94 330.05,509.74 329.26,506.31 C328.48,502.87 327.95,498.89 327.74,494.86 C327.52,490.83 327.74,486.37 327.99,482.13 C328.25,477.89 328.63,473.22 329.26,469.4 C329.9,465.59 330.85,461.87 331.81,459.22 C332.76,456.57 333.82,455.13 334.99,453.5 C336.16,451.86 338.17,450.1 338.81,449.42 Z" fill="#a5cde2"/>
<path d="M404.98,507.58 C404.81,505.88 403.86,501.01 403.97,497.4 C404.07,493.79 404.6,489.76 405.62,485.95 C406.64,482.13 408.27,477.78 410.07,474.49 C411.88,471.21 413.89,468.66 416.44,466.22 C418.98,463.78 422.16,461.45 425.34,459.86 C428.53,458.27 431.71,457.42 435.53,456.68 C439.34,455.94 444.4,455.51 448.25,455.41 C452.1,455.3 455.85,455.63 458.64,456.06 C461.43,456.48 462.88,457.01 465,457.97 C467.13,458.92 469.25,460.09 471.37,461.78 C473.49,463.48 475.61,465.6 477.73,468.15 C479.86,470.7 481.98,473.77 484.1,477.06 C486.22,480.35 488.56,484.91 490.47,487.88 C492.37,490.85 494.18,493.19 495.56,494.88 C496.94,496.58 498.21,497.54 498.74,498.07 L498.74,498.07 C499.7,497.75 502.41,497.22 504.47,496.16 C506.53,495.1 509.99,492.44 511.09,491.7 L511.09,491.7 C512.11,492.97 515.54,496.26 517.2,499.34 C518.85,502.42 519.75,506.02 521.02,510.16 C522.29,514.3 523.78,519.92 524.84,524.17 C525.9,528.41 526.43,531.59 527.38,535.62 C528.34,539.65 529.51,544.96 530.57,548.35 C531.63,551.75 532.48,553.49 533.75,555.99 C535.02,558.5 537.46,562.15 538.21,563.38 L538.21,563.38 C539.27,563.27 542.34,563.97 544.57,562.74 C546.8,561.51 549.35,559.03 551.57,555.99 C553.8,552.96 555.71,548.25 557.94,544.53 C560.17,540.82 563.77,535.52 564.94,533.71 L564.94,533.71 L570.67,532.44 L570.67,532.44 C571.62,533.61 574.7,537.32 576.4,539.44 C578.1,541.56 579.58,542.84 580.85,545.17 C582.13,547.5 582.55,551.11 584.04,553.45 C585.52,555.78 587.54,557.84 589.77,559.17 C591.99,560.51 594.96,561.36 597.4,561.47 C599.84,561.57 602.07,561.25 604.41,559.81 C606.74,558.37 609.22,554.51 611.41,552.81 C613.59,551.11 616.5,550.16 617.52,549.63 L617.52,549.63 C617.98,551.54 619.53,557.27 620.32,561.08 C621.1,564.9 621.17,568.93 622.23,572.54 C623.29,576.15 625.52,579.76 626.68,582.73 C627.85,585.7 628.38,588.03 629.23,590.37 C630.08,592.7 630.93,593.55 631.78,596.73 C632.63,599.91 633.9,607.34 634.32,609.46 L475.19,609.46 C475.51,608.72 476.14,606.92 477.1,605.01 C478.05,603.1 479.54,600.34 480.92,598 C482.3,595.67 484.63,592.17 485.37,591 L485.37,591 C483.89,588.99 480.07,582.62 476.46,578.91 C472.85,575.19 467.97,572.22 463.73,568.72 C459.49,565.22 454.64,561.52 451,557.9 C447.36,554.29 444.68,549.9 441.89,547.03 C439.1,544.16 437.01,543 434.25,540.67 C431.5,538.34 428.31,535.79 425.34,533.03 C422.38,530.28 418.98,526.88 416.44,524.12 C413.89,521.37 411.98,519.25 410.07,516.49 C408.16,513.73 405.83,509.07 404.98,507.58 Z" fill="#a5cde2"/>
</g>
<g clip-path="url(#axclip2)">
<defs><path id="ln-c" d="M-18.5,585.7 C-17.33,585.69 -13.83,585.65 -11.5,585.62 C-9.17,585.6 -6.83,585.57 -4.5,585.54 C-2.17,585.51 0.17,585.5 2.5,585.44 C4.83,585.38 7.17,585.31 9.5,585.19 C11.83,585.06 14.17,584.86 16.5,584.67 C18.83,584.48 21.17,584.24 23.5,584.05 C25.83,583.87 28.17,583.7 30.5,583.56 C32.83,583.41 35.17,583.29 37.5,583.17 C39.83,583.05 42.17,582.94 44.5,582.83 C46.83,582.72 49.17,582.62 51.5,582.53 C53.83,582.43 56.17,582.34 58.5,582.26 C60.83,582.18 63.17,582.1 65.5,582.04 C67.83,581.99 70.17,581.95 72.5,581.92 C74.83,581.88 77.17,581.86 79.5,581.82 C81.83,581.78 84.17,581.73 86.5,581.68 C88.83,581.63 91.17,581.58 93.5,581.5 C95.83,581.43 98.17,581.35 100.5,581.24 C102.83,581.13 105.17,581 107.5,580.85 C109.83,580.69 112.17,580.52 114.5,580.31 C116.83,580.09 119.17,579.84 121.5,579.54 C123.83,579.23 126.17,578.87 128.5,578.45 C130.83,578.04 133.17,577.58 135.5,577.04 C137.83,576.5 140.17,575.91 142.5,575.21 C144.83,574.51 147.17,573.72 149.5,572.83 C151.83,571.94 154.17,570.93 156.5,569.87 C158.83,568.81 161.17,567.65 163.5,566.48 C165.83,565.32 168.17,564.1 170.5,562.88 C172.83,561.67 175.17,560.41 177.5,559.2 C179.83,557.99 182.17,556.75 184.5,555.63 C186.83,554.51 189.17,553.44 191.5,552.49 C193.83,551.54 196.17,550.71 198.5,549.95 C200.83,549.18 203.17,548.52 205.5,547.92 C207.83,547.32 210.17,546.8 212.5,546.33 C214.83,545.87 217.17,545.48 219.5,545.14 C221.83,544.79 224.17,544.5 226.5,544.26 C228.83,544.03 231.17,543.86 233.5,543.71 C235.83,543.56 238.17,543.47 240.5,543.38 C242.83,543.29 245.17,543.23 247.5,543.17 C249.83,543.11 252.17,543.06 254.5,543.02 C256.83,542.98 259.17,542.96 261.5,542.93 C263.83,542.9 266.17,542.88 268.5,542.86 C270.83,542.84 273.17,542.83 275.5,542.82 C277.83,542.8 280.17,542.8 282.5,542.8 C284.83,542.8 287.17,542.8 289.5,542.8 C291.83,542.79 294.17,542.79 296.5,542.78 C298.83,542.77 301.17,542.75 303.5,542.76 C305.83,542.77 308.17,542.79 310.5,542.83 C312.83,542.87 315.17,542.94 317.5,543 C319.83,543.06 322.17,543.13 324.5,543.17 C326.83,543.21 329.17,543.24 331.5,543.23 C333.83,543.23 336.17,543.22 338.5,543.15 C340.83,543.08 343.17,542.98 345.5,542.83 C347.83,542.69 350.17,542.49 352.5,542.29 C354.83,542.09 357.17,541.85 359.5,541.64 C361.83,541.43 364.17,541.21 366.5,541.03 C368.83,540.86 371.17,540.69 373.5,540.61 C375.83,540.52 378.17,540.46 380.5,540.51 C382.83,540.56 385.17,540.66 387.5,540.89 C389.83,541.13 392.17,541.43 394.5,541.91 C396.83,542.38 399.17,542.95 401.5,543.72 C403.83,544.48 406.17,545.39 408.5,546.49 C410.83,547.59 413.17,548.89 415.5,550.31 C417.83,551.74 420.17,553.37 422.5,555.04 C424.83,556.71 427.17,558.55 429.5,560.33 C431.83,562.1 434.17,563.97 436.5,565.71 C438.83,567.44 441.17,569.18 443.5,570.72 C445.83,572.27 448.17,573.71 450.5,574.99 C452.83,576.26 455.17,577.37 457.5,578.37 C459.83,579.37 462.17,580.21 464.5,581 C466.83,581.8 469.17,582.48 471.5,583.12 C473.83,583.76 476.17,584.35 478.5,584.85 C480.83,585.36 483.17,585.8 485.5,586.16 C487.83,586.53 490.17,586.81 492.5,587.04 C494.83,587.27 497.17,587.43 499.5,587.55 C501.83,587.67 504.17,587.73 506.5,587.76 C508.83,587.8 511.17,587.79 513.5,587.75 C515.83,587.71 518.17,587.63 520.5,587.53 C522.83,587.42 525.17,587.26 527.5,587.11 C529.83,586.95 532.17,586.77 534.5,586.58 C536.83,586.4 539.17,586.21 541.5,586.01 C543.83,585.8 546.17,585.59 548.5,585.36 C550.83,585.13 553.17,584.89 555.5,584.64 C557.83,584.39 560.17,584.13 562.5,583.87 C564.83,583.62 567.17,583.35 569.5,583.11 C571.83,582.86 574.17,582.62 576.5,582.39 C578.83,582.17 581.17,581.95 583.5,581.74 C585.83,581.54 588.17,581.35 590.5,581.16 C592.83,580.98 595.17,580.81 597.5,580.65 C599.83,580.49 602.17,580.34 604.5,580.21 C606.83,580.08 609.17,579.97 611.5,579.88 C613.83,579.79 616.17,579.72 618.5,579.67 C620.83,579.61 623.17,579.58 625.5,579.56 C627.83,579.53 630.17,579.52 632.5,579.51 C634.83,579.5 637.17,579.5 639.5,579.5 C641.83,579.5 645.33,579.5 646.5,579.5"/></defs>
<use href="#ln-c" fill="none" stroke="#fff" stroke-opacity="0.55" stroke-width="4.9"/>
<use href="#ln-c" fill="none" stroke="#000" stroke-width="2.9"/>
</g>
<path d="M0,0 h-5.2 M0,131.55 h-5.2 M0,263.1 h-5.2 M0,394.65 h-5.2 M0,526.2 h-5.2 M140.23,605.4 v5.2 M315.52,605.4 v5.2 M490.82,605.4 v5.2" stroke="#000" stroke-width="1.3" fill="none"/>
<path d="M0,39.6 h-3 M0,62.77 h-3 M0,79.2 h-3 M0,91.95 h-3 M0,102.37 h-3 M0,111.17 h-3 M0,118.8 h-3 M0,125.53 h-3 M0,171.15 h-3 M0,194.32 h-3 M0,210.75 h-3 M0,223.5 h-3 M0,233.92 h-3 M0,242.72 h-3 M0,250.35 h-3 M0,257.08 h-3 M0,302.7 h-3 M0,325.87 h-3 M0,342.3 h-3 M0,355.05 h-3 M0,365.47 h-3 M0,374.27 h-3 M0,381.9 h-3 M0,388.63 h-3 M0,434.25 h-3 M0,457.42 h-3 M0,473.85 h-3 M0,486.6 h-3 M0,497.02 h-3 M0,505.82 h-3 M0,513.45 h-3 M0,520.18 h-3 M0,565.8 h-3 M0,588.97 h-3 M0,605.4 h-3" stroke="#000" stroke-width="1.0" fill="none"/>
<rect x="0" y="0" width="631.05" height="605.4" fill="none" stroke="#000" stroke-width="1.3"/>
<text x="-95.1" y="13.6" font-size="35.8">10</text>
<text x="-49.4" y="-0.4" font-size="25.06">−2</text>
<text x="-95.1" y="145.15" font-size="35.8">10</text>
<text x="-49.4" y="131.15" font-size="25.06">−1</text>
<text x="-74.1" y="276.7" font-size="35.8">10</text>
<text x="-28.4" y="262.7" font-size="25.06">0</text>
<text x="-74.1" y="408.25" font-size="35.8">10</text>
<text x="-28.4" y="394.25" font-size="25.06">1</text>
<text x="-74.1" y="539.8" font-size="35.8">10</text>
<text x="-28.4" y="525.8" font-size="25.06">2</text>
<text x="140.23" y="643.85" font-size="35.8" text-anchor="middle">−50</text>
<text x="315.52" y="643.85" font-size="35.8" text-anchor="middle">0</text>
<text x="490.82" y="643.85" font-size="35.8" text-anchor="middle">50</text>
<text x="198.3" y="689" font-size="42.8">Latitude [</text>
<text x="402.6" y="671.2" font-size="36">∘</text>
<text x="424.4" y="689" font-size="42.8">]</text>
<text transform="translate(-109,302.7) rotate(-90)" font-size="42.8" text-anchor="middle">Altitude [hPa]</text>
<text x="306.17" y="-9.6" font-size="42.96" text-anchor="middle">(c) Jan ΔT cloud: SST high</text>
<path d="M670.3,28 L670.3,27 L684,-0.6 L697.7,27 L697.7,28 Z" fill="#67001f"/>
<path d="M670.3,577 L670.3,578 L684,605.5 L697.7,578 L697.7,577 Z" fill="#063164"/>
<rect x="670.3" y="27" width="27.4" height="42.78" fill="#7d0624"/>
<rect x="670.3" y="69.38" width="27.4" height="42.78" fill="#a5142c"/>
<rect x="670.3" y="111.77" width="27.4" height="42.78" fill="#c3383b"/>
<rect x="670.3" y="154.16" width="27.4" height="42.78" fill="#d9644e"/>
<rect x="670.3" y="196.54" width="27.4" height="42.78" fill="#ea8e70"/>
<rect x="670.3" y="238.92" width="27.4" height="42.78" fill="#f6b394"/>
<rect x="670.3" y="281.31" width="27.4" height="42.78" fill="#f6f6f6"/>
<rect x="670.3" y="323.69" width="27.4" height="42.78" fill="#a5cde2"/>
<rect x="670.3" y="366.08" width="27.4" height="42.78" fill="#7ab4d6"/>
<rect x="670.3" y="408.46" width="27.4" height="42.78" fill="#4795c6"/>
<rect x="670.3" y="450.85" width="27.4" height="42.78" fill="#317bb7"/>
<rect x="670.3" y="493.23" width="27.4" height="42.78" fill="#1d5fa1"/>
<rect x="670.3" y="535.62" width="27.4" height="42.38" fill="#0c3d73"/>
<path d="M670.3,27 L684,-0.6 L697.7,27 L697.7,578 L684,605.5 L670.3,578 Z" fill="none" stroke="#111" stroke-width="1.2" stroke-linejoin="miter"/>
<text x="707.9" y="40.5" font-size="35.8">32.0</text>
<text x="707.9" y="82.88" font-size="35.8">16.0</text>
<text x="707.9" y="125.27" font-size="35.8">8.0</text>
<text x="707.9" y="167.66" font-size="35.8">4.0</text>
<text x="707.9" y="210.04" font-size="35.8">2.0</text>
<text x="707.9" y="252.42" font-size="35.8">1.0</text>
<text x="707.9" y="294.81" font-size="35.8">0.5</text>
<text x="707.9" y="337.19" font-size="35.8">−0.5</text>
<text x="707.9" y="379.58" font-size="35.8">−1.0</text>
<text x="707.9" y="421.96" font-size="35.8">−2.0</text>
<text x="707.9" y="464.35" font-size="35.8">−4.0</text>
<text x="707.9" y="506.73" font-size="35.8">−8.0</text>
<text x="707.9" y="549.12" font-size="35.8">−16.0</text>
<text x="707.9" y="591.5" font-size="35.8">−32.0</text>
<path d="M697.7,27 h5 M697.7,69.38 h5 M697.7,111.77 h5 M697.7,154.16 h5 M697.7,196.54 h5 M697.7,238.92 h5 M697.7,281.31 h5 M697.7,323.69 h5 M697.7,366.08 h5 M697.7,408.46 h5 M697.7,450.85 h5 M697.7,493.23 h5 M697.7,535.62 h5 M697.7,578 h5" stroke="#111" stroke-width="1.25" fill="none"/>
<text transform="translate(856.9,302.6) rotate(-90)" font-size="42.8" text-anchor="middle" word-spacing="-1">T [K]</text>
</g>
<g transform="translate(1198.5,831.5)">
<rect x="0" y="0" width="631.05" height="605.4" fill="#fff"/>
<rect x="2.3" y="2.3" width="626.45" height="600.8" fill="#f6f6f6"/>
<g clip-path="url(#axclip2)">
<path d="M66.47,333.19 C67.56,332.31 70.79,328.25 73,327.9 C75.2,327.55 78.58,330.55 79.7,331.07 L79.7,331.07 C80.64,334.22 83.93,343.42 85.34,349.95 C86.76,356.47 87.49,362.44 88.17,370.23 C88.84,378.02 89.11,386.4 89.4,396.68 C89.7,406.97 89.9,420.2 89.93,431.96 C89.96,443.71 89.81,456.94 89.58,467.23 C89.34,477.52 88.99,485.45 88.52,493.69 C88.05,501.92 87.58,509.56 86.76,516.61 C85.93,523.67 84.82,529.84 83.58,536.01 C82.35,542.19 80.05,550.71 79.35,553.65 L79.35,553.65 C78.29,554.47 75.14,558.59 73,558.59 C70.85,558.59 67.56,554.47 66.47,553.65 L66.47,553.65 C65.39,550.86 61.56,543.07 59.95,536.9 C58.33,530.72 57.6,523.81 56.77,516.61 C55.95,509.41 55.45,503.39 55.01,493.69 C54.57,483.99 54.27,470.17 54.13,458.41 C53.98,446.65 54.04,434.9 54.13,423.14 C54.22,411.38 54.22,397.86 54.66,387.87 C55.1,377.87 55.89,370.08 56.77,363.17 C57.66,356.27 58.33,351.42 59.95,346.42 C61.56,341.42 65.39,335.4 66.47,333.19 Z" fill="#a5cde2"/>
<path d="M52.5,-3.5 L53.6,0.1 L58.2,4 L59.4,7.1 L66.3,14.4 L72.9,17.1 L79.5,14.4 L84.5,4 L87.2,0.5 L88.5,-3.5Z" fill="#a5cde2"/>
</g>
<g clip-path="url(#axclip2)">
<defs><path id="ln-d" d="M-18.5,585.7 C-17.33,585.69 -13.83,585.65 -11.5,585.62 C-9.17,585.6 -6.83,585.57 -4.5,585.54 C-2.17,585.51 0.17,585.5 2.5,585.44 C4.83,585.38 7.17,585.31 9.5,585.19 C11.83,585.06 14.17,584.86 16.5,584.67 C18.83,584.48 21.17,584.24 23.5,584.05 C25.83,583.87 28.17,583.7 30.5,583.56 C32.83,583.41 35.17,583.29 37.5,583.17 C39.83,583.05 42.17,582.94 44.5,582.83 C46.83,582.72 49.17,582.62 51.5,582.53 C53.83,582.43 56.17,582.34 58.5,582.26 C60.83,582.18 63.17,582.1 65.5,582.04 C67.83,581.99 70.17,581.95 72.5,581.92 C74.83,581.88 77.17,581.86 79.5,581.82 C81.83,581.78 84.17,581.73 86.5,581.68 C88.83,581.63 91.17,581.58 93.5,581.5 C95.83,581.43 98.17,581.35 100.5,581.24 C102.83,581.13 105.17,581 107.5,580.85 C109.83,580.69 112.17,580.52 114.5,580.31 C116.83,580.09 119.17,579.84 121.5,579.54 C123.83,579.23 126.17,578.87 128.5,578.45 C130.83,578.04 133.17,577.58 135.5,577.04 C137.83,576.5 140.17,575.91 142.5,575.21 C144.83,574.51 147.17,573.72 149.5,572.83 C151.83,571.94 154.17,570.93 156.5,569.87 C158.83,568.81 161.17,567.65 163.5,566.48 C165.83,565.32 168.17,564.1 170.5,562.88 C172.83,561.67 175.17,560.41 177.5,559.2 C179.83,557.99 182.17,556.75 184.5,555.63 C186.83,554.51 189.17,553.44 191.5,552.49 C193.83,551.54 196.17,550.71 198.5,549.95 C200.83,549.18 203.17,548.52 205.5,547.92 C207.83,547.32 210.17,546.8 212.5,546.33 C214.83,545.87 217.17,545.48 219.5,545.14 C221.83,544.79 224.17,544.5 226.5,544.26 C228.83,544.03 231.17,543.86 233.5,543.71 C235.83,543.56 238.17,543.47 240.5,543.38 C242.83,543.29 245.17,543.23 247.5,543.17 C249.83,543.11 252.17,543.06 254.5,543.02 C256.83,542.98 259.17,542.96 261.5,542.93 C263.83,542.9 266.17,542.88 268.5,542.86 C270.83,542.84 273.17,542.83 275.5,542.82 C277.83,542.8 280.17,542.8 282.5,542.8 C284.83,542.8 287.17,542.8 289.5,542.8 C291.83,542.79 294.17,542.79 296.5,542.78 C298.83,542.77 301.17,542.75 303.5,542.76 C305.83,542.77 308.17,542.79 310.5,542.83 C312.83,542.87 315.17,542.94 317.5,543 C319.83,543.06 322.17,543.13 324.5,543.17 C326.83,543.21 329.17,543.24 331.5,543.23 C333.83,543.23 336.17,543.22 338.5,543.15 C340.83,543.08 343.17,542.98 345.5,542.83 C347.83,542.69 350.17,542.49 352.5,542.29 C354.83,542.09 357.17,541.85 359.5,541.64 C361.83,541.43 364.17,541.21 366.5,541.03 C368.83,540.86 371.17,540.69 373.5,540.61 C375.83,540.52 378.17,540.46 380.5,540.51 C382.83,540.56 385.17,540.66 387.5,540.89 C389.83,541.13 392.17,541.43 394.5,541.91 C396.83,542.38 399.17,542.95 401.5,543.72 C403.83,544.48 406.17,545.39 408.5,546.49 C410.83,547.59 413.17,548.89 415.5,550.31 C417.83,551.74 420.17,553.37 422.5,555.04 C424.83,556.71 427.17,558.55 429.5,560.33 C431.83,562.1 434.17,563.97 436.5,565.71 C438.83,567.44 441.17,569.18 443.5,570.72 C445.83,572.27 448.17,573.71 450.5,574.99 C452.83,576.26 455.17,577.37 457.5,578.37 C459.83,579.37 462.17,580.21 464.5,581 C466.83,581.8 469.17,582.48 471.5,583.12 C473.83,583.76 476.17,584.35 478.5,584.85 C480.83,585.36 483.17,585.8 485.5,586.16 C487.83,586.53 490.17,586.81 492.5,587.04 C494.83,587.27 497.17,587.43 499.5,587.55 C501.83,587.67 504.17,587.73 506.5,587.76 C508.83,587.8 511.17,587.79 513.5,587.75 C515.83,587.71 518.17,587.63 520.5,587.53 C522.83,587.42 525.17,587.26 527.5,587.11 C529.83,586.95 532.17,586.77 534.5,586.58 C536.83,586.4 539.17,586.21 541.5,586.01 C543.83,585.8 546.17,585.59 548.5,585.36 C550.83,585.13 553.17,584.89 555.5,584.64 C557.83,584.39 560.17,584.13 562.5,583.87 C564.83,583.62 567.17,583.35 569.5,583.11 C571.83,582.86 574.17,582.62 576.5,582.39 C578.83,582.17 581.17,581.95 583.5,581.74 C585.83,581.54 588.17,581.35 590.5,581.16 C592.83,580.98 595.17,580.81 597.5,580.65 C599.83,580.49 602.17,580.34 604.5,580.21 C606.83,580.08 609.17,579.97 611.5,579.88 C613.83,579.79 616.17,579.72 618.5,579.67 C620.83,579.61 623.17,579.58 625.5,579.56 C627.83,579.53 630.17,579.52 632.5,579.51 C634.83,579.5 637.17,579.5 639.5,579.5 C641.83,579.5 645.33,579.5 646.5,579.5"/></defs>
<use href="#ln-d" fill="none" stroke="#fff" stroke-opacity="0.55" stroke-width="4.9"/>
<use href="#ln-d" fill="none" stroke="#000" stroke-width="2.9"/>
</g>
<path d="M0,0 h-5.2 M0,131.55 h-5.2 M0,263.1 h-5.2 M0,394.65 h-5.2 M0,526.2 h-5.2 M140.23,605.4 v5.2 M315.52,605.4 v5.2 M490.82,605.4 v5.2" stroke="#000" stroke-width="1.3" fill="none"/>
<path d="M0,39.6 h-3 M0,62.77 h-3 M0,79.2 h-3 M0,91.95 h-3 M0,102.37 h-3 M0,111.17 h-3 M0,118.8 h-3 M0,125.53 h-3 M0,171.15 h-3 M0,194.32 h-3 M0,210.75 h-3 M0,223.5 h-3 M0,233.92 h-3 M0,242.72 h-3 M0,250.35 h-3 M0,257.08 h-3 M0,302.7 h-3 M0,325.87 h-3 M0,342.3 h-3 M0,355.05 h-3 M0,365.47 h-3 M0,374.27 h-3 M0,381.9 h-3 M0,388.63 h-3 M0,434.25 h-3 M0,457.42 h-3 M0,473.85 h-3 M0,486.6 h-3 M0,497.02 h-3 M0,505.82 h-3 M0,513.45 h-3 M0,520.18 h-3 M0,565.8 h-3 M0,588.97 h-3 M0,605.4 h-3" stroke="#000" stroke-width="1.0" fill="none"/>
<rect x="0" y="0" width="631.05" height="605.4" fill="none" stroke="#000" stroke-width="1.3"/>
<text x="-95.1" y="13.6" font-size="35.8">10</text>
<text x="-49.4" y="-0.4" font-size="25.06">−2</text>
<text x="-95.1" y="145.15" font-size="35.8">10</text>
<text x="-49.4" y="131.15" font-size="25.06">−1</text>
<text x="-74.1" y="276.7" font-size="35.8">10</text>
<text x="-28.4" y="262.7" font-size="25.06">0</text>
<text x="-74.1" y="408.25" font-size="35.8">10</text>
<text x="-28.4" y="394.25" font-size="25.06">1</text>
<text x="-74.1" y="539.8" font-size="35.8">10</text>
<text x="-28.4" y="525.8" font-size="25.06">2</text>
<text x="140.23" y="643.85" font-size="35.8" text-anchor="middle">−50</text>
<text x="315.52" y="643.85" font-size="35.8" text-anchor="middle">0</text>
<text x="490.82" y="643.85" font-size="35.8" text-anchor="middle">50</text>
<text x="198.3" y="689" font-size="42.8">Latitude [</text>
<text x="402.6" y="671.2" font-size="36">∘</text>
<text x="424.4" y="689" font-size="42.8">]</text>
<text transform="translate(-109,302.7) rotate(-90)" font-size="42.8" text-anchor="middle">Altitude [hPa]</text>
<text x="306.17" y="-9.5" font-size="42.96" text-anchor="middle">(d) Jan ΔT albedo: SST high</text>
<path d="M670.3,28 L670.3,27 L684,-0.6 L697.7,27 L697.7,28 Z" fill="#67001f"/>
<path d="M670.3,577 L670.3,578 L684,605.5 L697.7,578 L697.7,577 Z" fill="#063164"/>
<rect x="670.3" y="27" width="27.4" height="42.78" fill="#7d0624"/>
<rect x="670.3" y="69.38" width="27.4" height="42.78" fill="#a5142c"/>
<rect x="670.3" y="111.77" width="27.4" height="42.78" fill="#c3383b"/>
<rect x="670.3" y="154.16" width="27.4" height="42.78" fill="#d9644e"/>
<rect x="670.3" y="196.54" width="27.4" height="42.78" fill="#ea8e70"/>
<rect x="670.3" y="238.92" width="27.4" height="42.78" fill="#f6b394"/>
<rect x="670.3" y="281.31" width="27.4" height="42.78" fill="#f6f6f6"/>
<rect x="670.3" y="323.69" width="27.4" height="42.78" fill="#a5cde2"/>
<rect x="670.3" y="366.08" width="27.4" height="42.78" fill="#7ab4d6"/>
<rect x="670.3" y="408.46" width="27.4" height="42.78" fill="#4795c6"/>
<rect x="670.3" y="450.85" width="27.4" height="42.78" fill="#317bb7"/>
<rect x="670.3" y="493.23" width="27.4" height="42.78" fill="#1d5fa1"/>
<rect x="670.3" y="535.62" width="27.4" height="42.38" fill="#0c3d73"/>
<path d="M670.3,27 L684,-0.6 L697.7,27 L697.7,578 L684,605.5 L670.3,578 Z" fill="none" stroke="#111" stroke-width="1.2" stroke-linejoin="miter"/>
<text x="707.9" y="40.5" font-size="35.8">32.0</text>
<text x="707.9" y="82.88" font-size="35.8">16.0</text>
<text x="707.9" y="125.27" font-size="35.8">8.0</text>
<text x="707.9" y="167.66" font-size="35.8">4.0</text>
<text x="707.9" y="210.04" font-size="35.8">2.0</text>
<text x="707.9" y="252.42" font-size="35.8">1.0</text>
<text x="707.9" y="294.81" font-size="35.8">0.5</text>
<text x="707.9" y="337.19" font-size="35.8">−0.5</text>
<text x="707.9" y="379.58" font-size="35.8">−1.0</text>
<text x="707.9" y="421.96" font-size="35.8">−2.0</text>
<text x="707.9" y="464.35" font-size="35.8">−4.0</text>
<text x="707.9" y="506.73" font-size="35.8">−8.0</text>
<text x="707.9" y="549.12" font-size="35.8">−16.0</text>
<text x="707.9" y="591.5" font-size="35.8">−32.0</text>
<path d="M697.7,27 h5 M697.7,69.38 h5 M697.7,111.77 h5 M697.7,154.16 h5 M697.7,196.54 h5 M697.7,238.92 h5 M697.7,281.31 h5 M697.7,323.69 h5 M697.7,366.08 h5 M697.7,408.46 h5 M697.7,450.85 h5 M697.7,493.23 h5 M697.7,535.62 h5 M697.7,578 h5" stroke="#111" stroke-width="1.25" fill="none"/>
<text transform="translate(856.9,302.6) rotate(-90)" font-size="42.8" text-anchor="middle" word-spacing="-1">T [K]</text>
</g>
</svg></body></html>
